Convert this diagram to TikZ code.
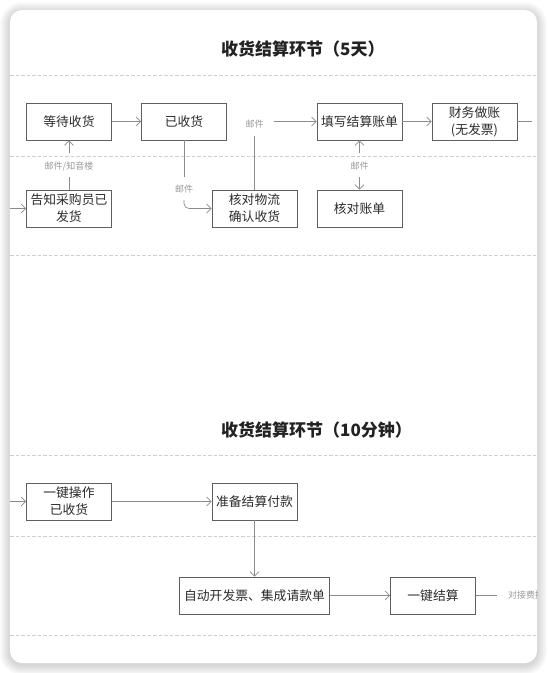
\documentclass[tikz,border=0pt]{standalone}
\usepackage{fontspec}
\setmainfont{Noto Sans CJK SC}
\usetikzlibrary{arrows.meta}
\definecolor{boxline}{HTML}{5F5F5F}
\definecolor{conn}{HTML}{8C8C8C}
\definecolor{lbl}{HTML}{9A9A9A}
\definecolor{dashc}{HTML}{CFCFCF}
\definecolor{txt}{HTML}{2B2B2B}
\definecolor{ttl}{HTML}{222222}
\begin{document}
\begin{tikzpicture}[x=1pt,y=-1pt,
  stepbox/.style={draw=boxline, line width=0.9pt, minimum width=85pt, minimum height=37pt,
    inner sep=0pt, align=center, text=txt, font=\fontsize{12.8}{17}\selectfont},
  titletext/.style={text=ttl, font=\fontsize{17}{20}\selectfont\bfseries, inner sep=0pt},
  lbltext/.style={text=lbl, font=\fontsize{9}{11}\selectfont, inner sep=0pt},
  conline/.style={draw=conn, line width=0.7pt},
  arr/.style={conline, -{Straight Barb[length=4.5pt,width=9pt,line width=0.7pt]}},
  rowsep/.style={draw=dashc, line width=0.7pt, dash pattern=on 3.5pt off 2pt}]
\useasboundingbox (0,0) rectangle (547,673);
\fill[white] (0,0) rectangle (547,673);
% shadow
\foreach \i in {1,...,10}{
  \pgfmathsetmacro\rr{12+\i}
  \fill[black, opacity=0.016, rounded corners=\rr pt] (10-\i,10-\i+2) rectangle (537+\i,663+\i+2);
}
\fill[white, rounded corners=12pt] (10,10) rectangle (537,663);
\begin{scope}
\clip[rounded corners=12pt] (10,10) rectangle (537,663);
% separators
\foreach \yy in {75,156,255,455,536,635}{
  \draw[rowsep] (10,\yy) -- (537,\yy);
}
% titles
\node[titletext, anchor=west] (t1) at (221,49) {收货结算环节（5天）};
\node[titletext, anchor=west] (t2) at (221,430) {收货结算环节（10分钟）};
% section 1 boxes
\node[stepbox] (wait) at (69,121.5) {等待收货};
\node[stepbox] (recv) at (184,121.5) {已收货};
\node[stepbox] (fill) at (359.5,121.5) {填写结算账单};
\node[stepbox] (fin) at (474.5,121.5) {财务做账\\(无发票)};
\node[stepbox] (notify) at (69,208.5) {告知采购员已\\发货};
\node[stepbox] (check) at (254.5,208.5) {核对物流\\确认收货};
\node[stepbox] (bill) at (359.5,208.5) {核对账单};
% labels
\node[lbltext] (l1) at (69,166) {邮件/知音楼};
\node[lbltext] (l2) at (184,189) {邮件};
\node[lbltext] (l3) at (254.5,124) {邮件};
\node[lbltext] (l4) at (359.5,166) {邮件};
% coordinates
\coordinate (in1) at (10,208.5);
\coordinate (out1) at (532,121.5);
\coordinate (a1) at (184,177);
\coordinate (a2) at (184,200);
\coordinate (a3) at (184,208.5);
\coordinate (b1) at (254.5,136);
\coordinate (b2) at (274,121.5);
\coordinate (c1) at (69,177);
\coordinate (c2) at (69,153);
\coordinate (d1) at (359.5,153);
\coordinate (d2) at (359.5,177);
% connectors section 1
\draw[arr] (wait.east) -- (recv.west);
\draw[conline] (recv.south) -- (a1);
\draw[arr, rounded corners=5pt] (a2) -- (a3) -- (check.west);
\draw[conline] (check.north) -- (b1);
\draw[arr] (b2) -- (fill.west);
\draw[arr] (fill.east) -- (fin.west);
\draw[conline] (fin.east) -- (out1);
\draw[conline] (notify.north) -- (c1);
\draw[arr] (c2) -- (wait.south);
\draw[arr] (d1) -- (fill.south);
\draw[arr] (d2) -- (bill.north);
\draw[arr] (in1) -- (notify.west);
% section 2 boxes
\node[stepbox] (one) at (69,501.5) {一键操作\\已收货};
\node[stepbox] (prep) at (254.5,501.5) {准备结算付款};
\node[stepbox, minimum width=150pt] (auto) at (254.5,595.5) {自动开发票、集成请款单};
\node[stepbox] (settle) at (433,595.5) {一键结算};
\coordinate (in2) at (10,501.5);
\coordinate (out2) at (497,595.5);
\node[lbltext, anchor=west] (l5) at (508,595.5) {对接费控};
\draw[arr] (in2) -- (one.west);
\draw[arr] (one.east) -- (prep.west);
\draw[arr] (prep.south) -- (auto.north);
\draw[arr] (auto.east) -- (settle.west);
\draw[conline] (settle.east) -- (out2);
\end{scope}
\end{tikzpicture}
\end{document}
